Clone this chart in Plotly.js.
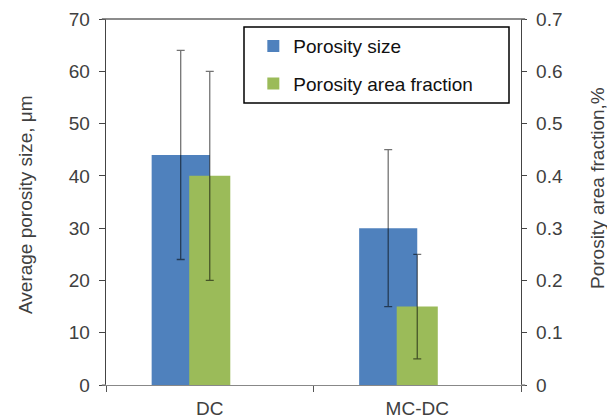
<!DOCTYPE html>
<html>
<head>
<meta charset="utf-8">
<script src="https://cdn.plot.ly/plotly-3.0.1.min.js"></script>
<style>html,body{margin:0;padding:0;background:#fff;}#chart{width:607px;height:419px;}</style>
</head>
<body>
<div id="chart"></div>
<script>
const categories = ["DC", "MC-DC"];
const poreSize = [44, 30];
const poreSizeErr = [20, 15];
const areaFraction = [0.40, 0.15];
const areaFractionErr = [0.20, 0.10];
const seriesNames = ["Porosity size", "Porosity area fraction"];
const leftTicks = [0, 10, 20, 30, 40, 50, 60, 70];
const rightTicks = [0, 0.1, 0.2, 0.3, 0.4, 0.5, 0.6, 0.7];

const FONT = "Liberation Sans, Arial, sans-serif";
const TXT = "#404040";
const FS = 19;

const traces = [
  {
    type: "bar", name: seriesNames[0], x: categories, y: poreSize,
    marker: {color: "#4F81BD"},
    width: 0.28, offset: -0.28,
    error_y: {type: "data", array: poreSizeErr, visible: true, color: "rgba(0,0,0,0.55)", thickness: 1.3, width: 4},
    legendgroup: "a", yaxis: "y"
  },
  {
    type: "bar", name: seriesNames[1], x: categories, y: areaFraction,
    marker: {color: "#9BBB59"},
    width: 0.198, offset: -0.099,
    error_y: {type: "data", array: areaFractionErr, visible: true, color: "rgba(0,0,0,0.55)", thickness: 1.3, width: 4},
    legendgroup: "b", yaxis: "y2"
  }
];

const layout = {
  width: 607, height: 419,
  margin: {l: 106, r: 86, t: 19, b: 34, pad: 0},
  paper_bgcolor: "#fff", plot_bgcolor: "#fff",
  font: {family: FONT, size: FS, color: TXT},
  barmode: "overlay",
  showlegend: true,
  legend: {
    x: 0.355, y: 0.978, xanchor: "left", yanchor: "top",
    bgcolor: "rgba(0,0,0,0)", borderwidth: 0,
    traceorder: "grouped", tracegroupgap: 10,
    font: {family: FONT, size: FS, color: "#111"}
  },
  xaxis: {
    type: "category", range: [-0.5, 1.5],
    showline: true, linecolor: "#888", linewidth: 1.3,
    ticks: "outside", tickson: "boundaries", ticklen: 6, tickcolor: "#555",
    ticklabelstandoff: 6,
    showgrid: false, zeroline: false,
    tickfont: {family: FONT, size: FS, color: TXT}
  },
  yaxis: {
    range: [0, 70], tickvals: leftTicks, ticktext: leftTicks.map(String),
    showline: true, linecolor: "#444", linewidth: 1.3,
    ticks: "outside", ticklen: 6, tickcolor: "#444",
    ticklabelstandoff: 5,
    showgrid: false, zeroline: false,
    tickfont: {family: FONT, size: FS, color: TXT}
  },
  yaxis2: {
    overlaying: "y", side: "right", range: [0, 0.7],
    tickvals: rightTicks, ticktext: rightTicks.map(String),
    showline: true, linecolor: "#444", linewidth: 1.3,
    ticks: "outside", ticklen: 5, tickcolor: "#444",
    ticklabelstandoff: 5,
    showgrid: false, zeroline: false,
    tickfont: {family: FONT, size: FS, color: TXT}
  },
  shapes: [
    {type: "line", xref: "paper", yref: "paper", x0: -0.01, x1: 1.01, y0: 1, y1: 1, line: {color: "#666", width: 1.3}},
    {type: "line", xref: "paper", yref: "paper", x0: -0.01, x1: 0, y0: 0, y1: 0, line: {color: "#888", width: 1.3}},
    {type: "line", xref: "paper", yref: "paper", x0: 1, x1: 1.01, y0: 0, y1: 0, line: {color: "#888", width: 1.3}},
    {type: "rect", xref: "paper", yref: "paper", x0: (244-106)/415, x1: (509-106)/415, y0: (385-103)/366, y1: (385-27)/366, line: {color: "#000", width: 1.5}, fillcolor: "rgba(0,0,0,0)"}
  ],
  annotations: [
    {text: "Average porosity size, μm", xref: "paper", yref: "paper", x: (25-106)/415, y: (385-205)/366, textangle: -90, showarrow: false, xanchor: "center", yanchor: "middle", font: {family: FONT, size: FS, color: TXT}},
    {text: "Porosity area fraction,%", xref: "paper", yref: "paper", x: (598-106)/415, y: (385-188)/366, textangle: -90, showarrow: false, xanchor: "center", yanchor: "middle", font: {family: FONT, size: FS, color: TXT}}
  ]
};

Plotly.newPlot("chart", traces, layout, {displayModeBar: false, staticPlot: true});
</script>
</body>
</html>
